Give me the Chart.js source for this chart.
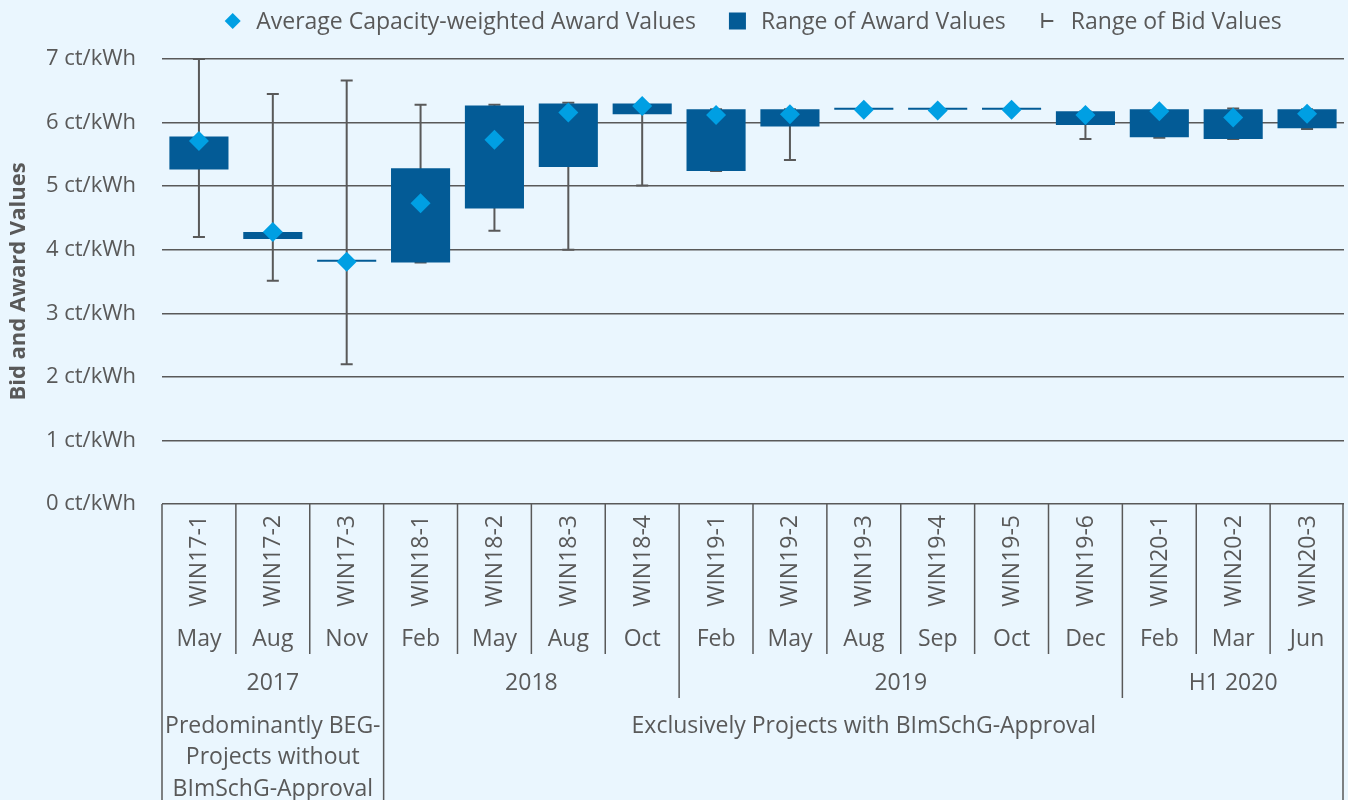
<!DOCTYPE html>
<html>
<head>
<meta charset="utf-8">
<title>Wind onshore tenders - bid and award values</title>
<script src="https://cdn.jsdelivr.net/npm/chart.js@4/dist/chart.umd.min.js"></script>
<style>
  html, body { margin: 0; padding: 0; background: #eaf6fe; overflow: hidden; }
  #wrap { width: 1348px; height: 800px; position: relative; }
  canvas { display: block; }
</style>
</head>
<body>
<div id="wrap"><canvas id="tenderChart"></canvas></div>
<script>
// tender rounds (x categories)
const rounds = ['WIN17-1', 'WIN17-2', 'WIN17-3', 'WIN18-1', 'WIN18-2', 'WIN18-3', 'WIN18-4',
  'WIN19-1', 'WIN19-2', 'WIN19-3', 'WIN19-4', 'WIN19-5', 'WIN19-6', 'WIN20-1', 'WIN20-2', 'WIN20-3'];
const months = ['May', 'Aug', 'Nov', 'Feb', 'May', 'Aug', 'Oct', 'Feb', 'May', 'Aug', 'Sep', 'Oct', 'Dec', 'Feb', 'Mar', 'Jun'];
const years = ['2017', '2018', '2019', 'H1 2020'];
const yearSpans = [3, 4, 6, 3];
const groups = [['Predominantly BEG-', 'Projects without', 'BImSchG-Approval'], ['Exclusively Projects with BImSchG-Approval']];
const groupSpans = [3, 13];

// values in ct/kWh
const awardAvg = [5.71, 4.28, 3.81, 4.73, 5.73, 6.16, 6.26, 6.12, 6.13, 6.20, 6.19, 6.20, 6.12, 6.18, 6.08, 6.14];
const awardMin = [5.26, 4.17, 3.81, 3.80, 4.65, 5.30, 6.13, 5.24, 5.94, 6.20, 6.20, 6.20, 5.96, 5.77, 5.74, 5.91];
const awardMax = [5.78, 4.28, 3.81, 5.28, 6.27, 6.30, 6.30, 6.21, 6.21, 6.20, 6.20, 6.20, 6.18, 6.21, 6.21, 6.21];
const bidMin = [4.20, 3.51, 2.20, 3.80, 4.30, 4.00, 5.01, 5.24, 5.41, 6.20, 6.20, 6.20, 5.74, 5.76, 5.74, 5.90];
const bidMax = [7.00, 6.45, 6.66, 6.28, 6.28, 6.31, 6.30, 6.21, 6.21, 6.20, 6.20, 6.20, 6.18, 6.21, 6.22, 6.21];

const yTicks = [0, 1, 2, 3, 4, 5, 6, 7];
const legendLabels = ['Average Capacity-weighted Award Values', 'Range of Award Values', 'Range of Bid Values'];

const BG = '#eaf6fe';
const GREY = '#595959';
const DARK_BLUE = '#035b96';
const LIGHT_BLUE = '#009fe3';
const FONT = '"Open Sans", "Noto Sans", sans-serif';

// background fill
const bgPlugin = {
  id: 'bg',
  beforeDraw(chart) {
    const ctx = chart.ctx;
    ctx.save();
    ctx.fillStyle = BG;
    ctx.fillRect(0, 0, chart.width, chart.height);
    ctx.restore();
  }
};

// bid range whiskers, drawn under the award boxes
const whiskerPlugin = {
  id: 'whiskers',
  beforeDatasetsDraw(chart) {
    const ctx = chart.ctx;
    const x = chart.scales.x, y = chart.scales.y;
    ctx.save();
    ctx.strokeStyle = GREY;
    ctx.lineWidth = 2;
    rounds.forEach((r, i) => {
      if (bidMax[i] <= bidMin[i]) return;
      const cx = x.getPixelForValue(i);
      const y1 = y.getPixelForValue(bidMin[i]);
      const y2 = y.getPixelForValue(bidMax[i]);
      ctx.beginPath();
      ctx.moveTo(cx, y1); ctx.lineTo(cx, y2);
      ctx.moveTo(cx - 6, y1); ctx.lineTo(cx + 6, y1);
      ctx.moveTo(cx - 6, y2); ctx.lineTo(cx + 6, y2);
      ctx.stroke();
    });
    ctx.restore();
  }
};

// multi-level category axis below the plot
const tablePlugin = {
  id: 'catTable',
  afterDraw(chart) {
    const ctx = chart.ctx;
    const x = chart.scales.x;
    const top = chart.chartArea.bottom;
    const half = (x.getPixelForValue(1) - x.getPixelForValue(0)) / 2;
    const edge = i => x.getPixelForValue(i) - half;
    const yearEnds = [], groupEnds = [];
    yearSpans.reduce((a, s) => { yearEnds.push(a + s); return a + s; }, 0);
    groupSpans.reduce((a, s) => { groupEnds.push(a + s); return a + s; }, 0);

    ctx.save();
    ctx.fillStyle = GREY;
    ctx.strokeStyle = GREY;
    ctx.lineWidth = 1.5;
    ctx.font = '23px ' + FONT;
    ctx.textBaseline = 'middle';

    // separators
    for (let i = 0; i <= rounds.length; i++) {
      let bottom = top + 150;
      if (i === 0 || groupEnds.includes(i)) bottom = chart.height;
      else if (yearEnds.includes(i)) bottom = top + 194;
      const px = i === rounds.length ? edge(i) - 1 : edge(i);
      ctx.beginPath();
      ctx.moveTo(px, top); ctx.lineTo(px, bottom);
      ctx.stroke();
    }

    rounds.forEach((r, i) => {
      const cx = x.getPixelForValue(i);
      ctx.save();
      ctx.translate(cx + 1, top + 11);
      ctx.rotate(-Math.PI / 2);
      ctx.textAlign = 'right';
      ctx.fillText(r, 0, 0);
      ctx.restore();
      ctx.textAlign = 'center';
      ctx.fillText(months[i], cx, top + 135);
    });

    let start = 0;
    years.forEach((label, k) => {
      const mid = (edge(start) + edge(start + yearSpans[k])) / 2;
      ctx.textAlign = 'center';
      ctx.fillText(label, mid, top + 179);
      start += yearSpans[k];
    });

    start = 0;
    groups.forEach((lines, k) => {
      const mid = (edge(start) + edge(start + groupSpans[k])) / 2;
      lines.forEach((line, j) => {
        ctx.textAlign = 'center';
        ctx.fillText(line, mid, top + 222 + j * 31.5);
      });
      start += groupSpans[k];
    });
    ctx.restore();
  }
};

// legend row above the plot
function legendIcon(ctx, kind, cx, cy) {
  if (kind === 0) {
    ctx.fillStyle = LIGHT_BLUE;
    ctx.beginPath();
    ctx.moveTo(cx, cy - 8); ctx.lineTo(cx + 8, cy); ctx.lineTo(cx, cy + 8); ctx.lineTo(cx - 8, cy);
    ctx.closePath(); ctx.fill();
  } else if (kind === 1) {
    ctx.fillStyle = DARK_BLUE;
    ctx.fillRect(cx - 8.5, cy - 8.5, 17, 17);
  } else {
    ctx.strokeStyle = GREY;
    ctx.lineWidth = 2;
    ctx.beginPath();
    ctx.moveTo(cx - 5, cy - 8); ctx.lineTo(cx - 5, cy + 7);
    ctx.moveTo(cx - 5, cy); ctx.lineTo(cx + 6, cy);
    ctx.stroke();
  }
}

const legendPlugin = {
  id: 'topLegend',
  afterDraw(chart) {
    const ctx = chart.ctx;
    const area = chart.chartArea;
    ctx.save();
    ctx.font = '23px ' + FONT;
    ctx.textBaseline = 'middle';
    ctx.textAlign = 'left';
    const box = 17, gap = 15, spacing = 33;
    const widths = legendLabels.map(t => box + gap + ctx.measureText(t).width);
    const total = widths.reduce((a, b) => a + b, 0) + spacing * (widths.length - 1);
    let xPos = (area.left + area.right) / 2 - total / 2;
    const cy = 22;
    legendLabels.forEach((t, k) => {
      legendIcon(ctx, k, xPos + box / 2, cy - 1);
      ctx.fillStyle = GREY;
      ctx.fillText(t, xPos + box + gap, cy);
      xPos += widths[k] + spacing;
    });
    ctx.restore();
  }
};

document.addEventListener('DOMContentLoaded', function() {
  const ctx = document.getElementById('tenderChart').getContext('2d');
  new Chart(ctx, {
    type: 'bar',
    data: {
      labels: rounds,
      datasets: [{
        type: 'line',
        label: legendLabels[0],
        data: awardAvg,
        showLine: false,
        pointStyle: 'rectRot',
        pointRadius: 10,
        pointHoverRadius: 10,
        backgroundColor: LIGHT_BLUE,
        borderColor: LIGHT_BLUE,
        borderWidth: 0,
        order: 0
      }, {
        label: legendLabels[1],
        data: awardMin.map((v, i) => [v, awardMax[i]]),
        backgroundColor: DARK_BLUE,
        borderWidth: 0,
        minBarLength: 2,
        barPercentage: 0.8,
        categoryPercentage: 1,
        order: 1
      }]
    },
    options: {
      responsive: true,
      maintainAspectRatio: false,
      animation: false,
      layout: { autoPadding: false, padding: { top: 59, right: 4, bottom: 296, left: 0 } },
      plugins: {
        legend: { display: false },
        tooltip: { enabled: false }
      },
      scales: {
        x: {
          display: false,
          offset: true
        },
        y: {
          min: 0,
          max: 7,
          afterFit: scale => { scale.width = 162; },
          afterBuildTicks: scale => { scale.ticks = yTicks.map(v => ({ value: v })); },
          border: { display: false },
          grid: { color: GREY, lineWidth: 1.5, drawTicks: false },
          ticks: {
            padding: 26,
            color: GREY,
            font: { family: FONT, size: 22 },
            callback: v => v + ' ct/kWh'
          },
          title: {
            display: true,
            text: 'Bid and Award Values',
            color: GREY,
            font: { family: FONT, size: 22, weight: 'bold' },
            padding: { top: 6, bottom: 0 }
          }
        }
      }
    },
    plugins: [bgPlugin, whiskerPlugin, tablePlugin, legendPlugin]
  });
});
</script>
</body>
</html>
